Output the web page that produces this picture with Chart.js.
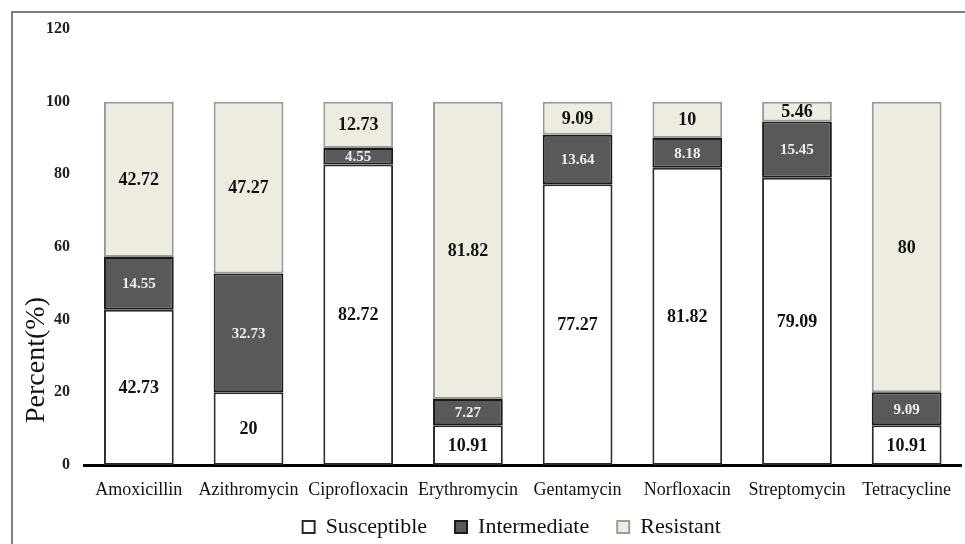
<!DOCTYPE html>
<html>
<head>
<meta charset="utf-8">
<script src="https://cdn.jsdelivr.net/npm/chart.js@4/dist/chart.umd.min.js"></script>
<style>
  html, body { margin: 0; padding: 0; background: #fff; }
  #wrap { width: 965px; height: 544px; }
</style>
</head>
<body>
<div id="wrap"><canvas id="chart" width="965" height="544"></canvas></div>

<script>
    // Antibiotic susceptibility (%), one value per drug
    const drugs = ['Amoxicillin', 'Azithromycin', 'Ciprofloxacin', 'Erythromycin',
                   'Gentamycin', 'Norfloxacin', 'Streptomycin', 'Tetracycline'];
    const susceptible = [42.73, 20, 82.72, 10.91, 77.27, 81.82, 79.09, 10.91];
    const intermediate = [14.55, 32.73, 4.55, 7.27, 13.64, 8.18, 15.45, 9.09];
    const resistant = [42.72, 47.27, 12.73, 81.82, 9.09, 10, 5.46, 80];
    const yTicks = [0, 20, 40, 60, 80, 100, 120];

    const serif = '"Liberation Serif", "Times New Roman", serif';

    // numbers written in the middle of every segment
    const segmentLabels = {
      id: 'segmentLabels',
      afterDatasetsDraw(chart) {
        const ctx = chart.ctx;
        ctx.save();
        ctx.textAlign = 'center';
        ctx.textBaseline = 'middle';
        chart.data.datasets.forEach((ds, i) => {
          const meta = chart.getDatasetMeta(i);
          ctx.font = ds.labelFont;
          ctx.fillStyle = ds.labelColor;
          meta.data.forEach((bar, j) => {
            ctx.fillText(String(ds.data[j]), bar.x, (bar.y + bar.base) / 2 + 1);
          });
        });
        ctx.restore();
      }
    };

    // let the x labels spill below their box, nudge the legend left a bit
    const tweakLayout = {
      id: 'tweakLayout',
      afterLayout(chart) {
        chart.scales.x.bottom = chart.height;
        chart.legend.left -= 11;
        chart.legend.right -= 11;
      }
    };

    // frame of the figure and the rotated axis title
    const frame = {
      id: 'frame',
      afterDraw(chart) {
        const ctx = chart.ctx;
        ctx.save();
        ctx.strokeStyle = '#555';
        ctx.lineWidth = 1.5;
        ctx.beginPath();
        ctx.moveTo(12, 544);
        ctx.lineTo(12, 12);
        ctx.lineTo(965, 12);
        ctx.stroke();

        ctx.translate(37, 360);
        ctx.rotate(-Math.PI / 2);
        ctx.font = '28px ' + serif;
        ctx.fillStyle = '#111';
        ctx.textAlign = 'center';
        ctx.textBaseline = 'middle';
        ctx.fillText('Percent(%)', 0, 0);
        ctx.restore();
      }
    };

    const ctx = document.getElementById('chart').getContext('2d');
    new Chart(ctx, {
      type: 'bar',
      data: {
        labels: drugs,
        datasets: [{
          label: 'Susceptible',
          data: susceptible,
          backgroundColor: '#ffffff',
          borderColor: '#2a2a2a',
          labelFont: 'bold 18px ' + serif,
          labelColor: '#111'
        }, {
          label: 'Intermediate',
          data: intermediate,
          backgroundColor: '#595959',
          borderColor: '#1a1a1a',
          labelFont: 'bold 15px ' + serif,
          labelColor: '#eeeeee'
        }, {
          label: 'Resistant',
          data: resistant,
          backgroundColor: '#eeece1',
          borderColor: '#9a9a9a',
          labelFont: 'bold 18px ' + serif,
          labelColor: '#111'
        }]
      },
      options: {
        responsive: false,
        animation: false,
        layout: { padding: { top: 29, left: 0, right: 0, bottom: -4 } },
        datasets: {
          bar: {
            borderWidth: 2,
            borderSkipped: false,
            barPercentage: 0.636,
            categoryPercentage: 1
          }
        },
        scales: {
          x: {
            stacked: true,
            grid: { display: false, drawTicks: false },
            border: { display: true, color: '#000', width: 3 },
            ticks: {
              color: '#111',
              padding: 14,
              maxRotation: 0,
              autoSkip: false,
              font: { family: serif, size: 18 }
            },
            afterFit(scale) { scale.height = 23; }
          },
          y: {
            stacked: true,
            min: 0,
            max: 120,
            afterBuildTicks(scale) { scale.ticks = yTicks.map(v => ({ value: v })); },
            grid: { display: false, drawTicks: false },
            border: { display: false },
            ticks: {
              color: '#222',
              padding: 14,
              font: { family: serif, size: 16, weight: 'bold' }
            },
            afterFit(scale) { scale.width = 84; }
          }
        },
        plugins: {
          legend: {
            position: 'bottom',
            fullSize: false,
            labels: {
              boxWidth: 12,
              boxHeight: 12,
              padding: 28,
              color: '#111',
              font: { family: serif, size: 22 }
            }
          },
          tooltip: { enabled: false }
        }
      },
      plugins: [segmentLabels, tweakLayout, frame]
    });
</script>
</body>
</html>
